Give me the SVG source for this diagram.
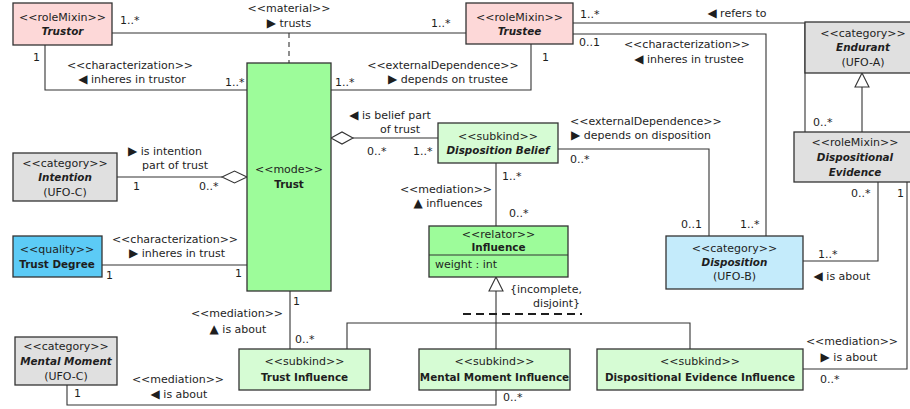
<svg xmlns="http://www.w3.org/2000/svg" width="910" height="409" viewBox="0 0 910 409">
<style>
text{font-family:"DejaVu Sans","Liberation Sans",sans-serif;font-size:11px;fill:#1e1e1e}
.b{font-weight:bold;font-size:10.4px}
.bi{font-weight:bold;font-style:italic;font-size:10.4px}
.m{text-anchor:middle}
.e{text-anchor:end}
.t{font-size:12px}
.box{stroke:#333;stroke-width:1.3}
.pink{fill:#fdd8d8}.green{fill:#9dfc9a}.lg{fill:#d6fcd4}.gray{fill:#e0e0e0}.cyan{fill:#5ccbf6}.lb{fill:#c4ebfb}
.ln{fill:none;stroke:#333;stroke-width:1.1}
</style>
<g id="connectors">
<path class="ln" d="M112,33H466"/>
<path class="ln" d="M289,33V63" stroke-dasharray="5,4"/>
<path class="ln" d="M45,45V90H247"/>
<path class="ln" d="M531,44V90H331"/>
<path class="ln" d="M573,23H805V132"/>
<path class="ln" d="M573,34H766V236"/>
<path class="ln" d="M862,132V87"/>
<path d="M862,73L855,87H869Z" fill="#fff" stroke="#333" stroke-width="1.1"/>
<path class="ln" d="M878,182V261H803"/>
<path class="ln" d="M907,182V369H803"/>
<path class="ln" d="M558,149H709V236"/>
<path class="ln" d="M353,138H438"/>
<path d="M331,138L342,132L353,138L342,144Z" fill="#fff" stroke="#333" stroke-width="1.1"/>
<path class="ln" d="M117,177H222"/>
<path d="M222,177L234.5,171L247,177L234.5,183Z" fill="#fff" stroke="#333" stroke-width="1.1"/>
<path class="ln" d="M102,265H247"/>
<path class="ln" d="M496,163V226"/>
<path class="ln" d="M290,291V349"/>
<path class="ln" d="M67,385V405H496V390"/>
<path class="ln" d="M496,291V349"/>
<path d="M496,277L489,291H503Z" fill="#fff" stroke="#333" stroke-width="1.1"/>
<path class="ln" d="M347,349V323H690V349"/>
<path d="M463,314H582" fill="none" stroke="#1e1e1e" stroke-width="1.8" stroke-dasharray="8,5"/>
<text x="120" y="24">1..*</text>
<text x="289" y="12" class="m">&lt;&lt;material&gt;&gt;</text>
<text x="289" y="27" class="m"><tspan class="t">▶</tspan> trusts</text>
<text x="431" y="27">1..*</text>
<text x="33" y="61">1</text>
<text x="130" y="69" class="m">&lt;&lt;characterization&gt;&gt;</text>
<text x="132" y="83" class="m"><tspan class="t">◀</tspan> inheres in trustor</text>
<text x="225" y="86">1..*</text>
<text x="542" y="61">1</text>
<text x="443" y="69" class="m">&lt;&lt;externalDependence&gt;&gt;</text>
<text x="448" y="83" class="m"><tspan class="t">▶</tspan> depends on trustee</text>
<text x="335" y="86">1..*</text>
<text x="580" y="18">1..*</text>
<text x="737" y="17" class="m"><tspan class="t">◀</tspan> refers to</text>
<text x="579" y="46">0..1</text>
<text x="687" y="48" class="m">&lt;&lt;characterization&gt;&gt;</text>
<text x="689" y="63" class="m"><tspan class="t">◀</tspan> inheres in trustee</text>
<text x="813" y="126">0..*</text>
<text x="390" y="119" class="m"><tspan class="t">◀</tspan> is belief part</text>
<text x="400" y="133" class="m">of trust</text>
<text x="367" y="155">0..*</text>
<text x="413" y="155">1..*</text>
<text x="570" y="163">0..*</text>
<text x="570" y="125">&lt;&lt;externalDependence&gt;&gt;</text>
<text x="571" y="139"><tspan class="t">▶</tspan> depends on disposition</text>
<text x="681" y="228">0..1</text>
<text x="740" y="228">1..*</text>
<text x="165" y="155" class="m"><tspan class="t">▶</tspan> is intention</text>
<text x="175" y="169" class="m">part of trust</text>
<text x="133" y="190">1</text>
<text x="199" y="190">0..*</text>
<text x="175" y="243" class="m">&lt;&lt;characterization&gt;&gt;</text>
<text x="177" y="257" class="m"><tspan class="t">▶</tspan> inheres in trust</text>
<text x="106" y="279">1</text>
<text x="235" y="277">1</text>
<text x="502" y="180">1..*</text>
<text x="446" y="193" class="m">&lt;&lt;mediation&gt;&gt;</text>
<text x="448" y="207" class="m"><tspan class="t">▲</tspan> influences</text>
<text x="509" y="217">0..*</text>
<text x="851" y="197">0..*</text>
<text x="897" y="197">1</text>
<text x="818" y="258">1..*</text>
<text x="842" y="280" class="m"><tspan class="t">◀</tspan> is about</text>
<text x="852" y="345" class="m">&lt;&lt;mediation&gt;&gt;</text>
<text x="849" y="361" class="m"><tspan class="t">▶</tspan> is about</text>
<text x="820" y="383">0..*</text>
<text x="293" y="305">1</text>
<text x="237" y="317" class="m">&lt;&lt;mediation&gt;&gt;</text>
<text x="238" y="333" class="m"><tspan class="t">▲</tspan> is about</text>
<text x="295" y="343">0..*</text>
<text x="74" y="397">1</text>
<text x="178" y="383" class="m">&lt;&lt;mediation&gt;&gt;</text>
<text x="179" y="398" class="m"><tspan class="t">◀</tspan> is about</text>
<text x="503" y="401">0..*</text>
<text x="510" y="293">{incomplete,</text>
<text x="580" y="307" class="e">disjoint}</text>
</g>
<g id="trustor"><rect class="box pink" x="13" y="3" width="99" height="42"/><text x="62.5" y="21" class="m">&lt;&lt;roleMixin&gt;&gt;</text><text x="62.5" y="35" class="m bi">Trustor</text></g>
<g id="trustee"><rect class="box pink" x="466" y="3" width="107" height="41"/><text x="519.5" y="21" class="m">&lt;&lt;roleMixin&gt;&gt;</text><text x="519.5" y="35" class="m bi">Trustee</text></g>
<g id="endurant"><rect class="box gray" x="805" y="22" width="116" height="51"/><text x="863" y="37" class="m">&lt;&lt;category&gt;&gt;</text><text x="863" y="51" class="m bi">Endurant</text><text x="863" y="66" class="m">(UFO-A)</text></g>
<g id="dispositional-evidence"><rect class="box gray" x="794" y="132" width="123" height="50"/><text x="855" y="146" class="m">&lt;&lt;roleMixin&gt;&gt;</text><text x="855" y="161" class="m bi">Dispositional</text><text x="855" y="176" class="m bi">Evidence</text></g>
<g id="trust"><rect class="box green" x="247" y="63" width="84" height="228"/><text x="289" y="173" class="m">&lt;&lt;mode&gt;&gt;</text><text x="289" y="188" class="m b">Trust</text></g>
<g id="disposition-belief"><rect class="box lg" x="438" y="123" width="120" height="40"/><text x="498" y="140" class="m">&lt;&lt;subkind&gt;&gt;</text><text x="498" y="154" class="m bi">Disposition Belief</text></g>
<g id="intention"><rect class="box gray" x="13" y="153" width="104" height="48"/><text x="65" y="167" class="m">&lt;&lt;category&gt;&gt;</text><text x="65" y="181" class="m bi">Intention</text><text x="65" y="196" class="m">(UFO-C)</text></g>
<g id="trust-degree"><rect class="box cyan" x="13" y="236" width="89" height="41"/><text x="57" y="253" class="m">&lt;&lt;quality&gt;&gt;</text><text x="57" y="268" class="m b">Trust Degree</text></g>
<g id="influence"><rect class="box green" x="429" y="226" width="139" height="51"/><path class="ln" d="M429,255H568"/><text x="498.5" y="238" class="m">&lt;&lt;relator&gt;&gt;</text><text x="498.5" y="251" class="m b">Influence</text><text x="435" y="268">weight : int</text></g>
<g id="disposition"><rect class="box lb" x="666" y="236" width="137" height="53"/><text x="734.5" y="252" class="m">&lt;&lt;category&gt;&gt;</text><text x="734.5" y="266" class="m bi">Disposition</text><text x="734.5" y="280" class="m">(UFO-B)</text></g>
<g id="mental-moment"><rect class="box gray" x="15" y="337" width="102" height="48"/><text x="66" y="350" class="m">&lt;&lt;category&gt;&gt;</text><text x="66" y="365" class="m bi">Mental Moment</text><text x="66" y="380" class="m">(UFO-C)</text></g>
<g id="trust-influence"><rect class="box lg" x="239" y="349" width="131" height="41"/><text x="304.5" y="365" class="m">&lt;&lt;subkind&gt;&gt;</text><text x="304.5" y="381" class="m b">Trust Influence</text></g>
<g id="mental-moment-influence"><rect class="box lg" x="419" y="349" width="151" height="41"/><text x="494.5" y="365" class="m">&lt;&lt;subkind&gt;&gt;</text><text x="494.5" y="381" class="m b">Mental Moment Influence</text></g>
<g id="dispositional-evidence-influence"><rect class="box lg" x="597" y="349" width="206" height="41"/><text x="700" y="365" class="m">&lt;&lt;subkind&gt;&gt;</text><text x="700" y="381" class="m b">Dispositional Evidence Influence</text></g>
</svg>
